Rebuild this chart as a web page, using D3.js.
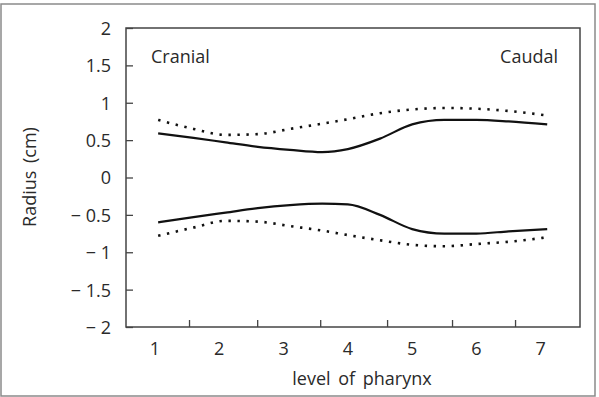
<!DOCTYPE html>
<html>
<head>
<meta charset="utf-8">
<script src="https://cdn.jsdelivr.net/npm/d3@7"></script>
<style>
body { margin: 0; background: #fff; }
text { font-family: "Open Sans", sans-serif; fill: #2a2a2a; }
</style>
</head>
<body>
<script>
// levels along the pharynx (x positions of the read points)
var levels = [1.05, 1.6, 2.1, 2.6, 3.1, 3.6, 4.0, 4.5, 5.0, 5.5, 6.0, 6.5, 7.1];
// radius values
var upperSolid  = [0.59, 0.53, 0.47, 0.41, 0.37, 0.34, 0.38, 0.52, 0.71, 0.77, 0.77, 0.75, 0.71];
var upperDotted = [0.77, 0.65, 0.57, 0.58, 0.65, 0.72, 0.78, 0.86, 0.91, 0.93, 0.92, 0.89, 0.83];
var lowerSolid  = [-0.60, -0.53, -0.47, -0.41, -0.37, -0.35, -0.36, -0.50, -0.69, -0.75, -0.75, -0.72, -0.69];
var lowerDotted = [-0.78, -0.67, -0.58, -0.59, -0.65, -0.71, -0.77, -0.84, -0.90, -0.92, -0.89, -0.86, -0.80];

var xLabels = [1, 2, 3, 4, 5, 6, 7];
var xTicks = [1.53, 2.59, 3.57, 4.61, 5.62, 6.6];
var yTicks = [2, 1.5, 1, 0.5, 0, -0.5, -1, -1.5, -2];

var w = 599, h = 397;
var svg = d3.select("body").append("svg")
    .attr("width", w)
    .attr("height", h);

// outer frame
svg.append("rect")
    .attr("x", 1).attr("y", 4)
    .attr("width", 594).attr("height", 392)
    .style("fill", "none")
    .style("stroke", "#8a8a8a")
    .style("stroke-width", 1.5);

var plotLeft = 126, plotRight = 580, plotTop = 28, plotBottom = 327;

var x = d3.scaleLinear()
    .domain([0.55, 7.61])
    .range([plotLeft, plotRight]);
var y = d3.scaleLinear()
    .domain([-2, 2])
    .range([plotBottom, plotTop]);

// plot frame
svg.append("rect")
    .attr("x", plotLeft).attr("y", plotTop)
    .attr("width", plotRight - plotLeft).attr("height", plotBottom - plotTop)
    .style("fill", "none")
    .style("stroke", "#444")
    .style("stroke-width", 1.5);

// y axis: ticks point inward
var yAxis = d3.axisRight(y)
    .tickValues(yTicks)
    .tickSize(7)
    .tickFormat(function(d){
        return d < 0 ? "\u2212 " + (-d) : d;
    });
var gy = svg.append("g")
    .attr("transform", "translate(" + plotLeft + ",0)")
    .call(yAxis);
gy.select(".domain").remove();
gy.selectAll("line").style("stroke", "#444").style("stroke-width", 1.3);
gy.selectAll("text")
    .attr("x", -15)
    .attr("dy", "0.36em")
    .attr("text-anchor", "end")
    .style("font-size", "18px")
    .style("font-family", "'Open Sans', sans-serif")
    .style("fill", "#2a2a2a");

// x axis: tick marks between labels, pointing up
var xAxis = d3.axisTop(x)
    .tickValues(xTicks)
    .tickSize(7)
    .tickFormat("");
var gx = svg.append("g")
    .attr("transform", "translate(0," + plotBottom + ")")
    .call(xAxis);
gx.select(".domain").remove();
gx.selectAll("line").style("stroke", "#444").style("stroke-width", 1.3);

svg.selectAll(".xlabel")
    .data(xLabels)
    .enter()
    .append("text")
    .attr("class", "xlabel")
    .attr("x", function(d){ return x(d); })
    .attr("y", 355)
    .attr("text-anchor", "middle")
    .style("font-size", "18px")
    .text(function(d){ return d; });

// axis titles
svg.append("text")
    .attr("x", 362).attr("y", 385)
    .attr("text-anchor", "middle")
    .style("font-size", "18px")
    .style("word-spacing", "3px")
    .text("level of pharynx");

svg.append("text")
    .attr("transform", "translate(36,177) rotate(-90)")
    .attr("text-anchor", "middle")
    .style("font-size", "18px")
    .style("word-spacing", "3px")
    .text("Radius (cm)");

// region labels
svg.append("text")
    .attr("x", 151).attr("y", 63)
    .style("font-size", "18px")
    .text("Cranial");
svg.append("text")
    .attr("x", 558).attr("y", 63)
    .attr("text-anchor", "end")
    .style("font-size", "18px")
    .text("Caudal");

// curves
var line = d3.line()
    .x(function(d){ return x(d[0]); })
    .y(function(d){ return y(d[1]); })
    .curve(d3.curveMonotoneX);

var series = [
    { values: upperSolid, dotted: false },
    { values: lowerSolid, dotted: false },
    { values: upperDotted, dotted: true },
    { values: lowerDotted, dotted: true }
];

svg.selectAll(".curve")
    .data(series)
    .enter()
    .append("path")
    .attr("class", "curve")
    .attr("d", function(d){
        return line(d.values.map(function(v, i){ return [levels[i], v]; }));
    })
    .style("fill", "none")
    .style("stroke", "#111")
    .style("stroke-width", function(d){ return d.dotted ? 2.6 : 2.2; })
    .style("stroke-dasharray", function(d){ return d.dotted ? "2.4,6.6" : null; });
</script>
</body>
</html>
